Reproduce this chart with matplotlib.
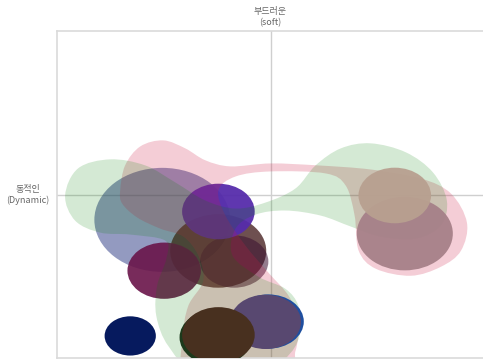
import numpy as np
import matplotlib
matplotlib.use("Agg")
import matplotlib.pyplot as plt
from matplotlib.path import Path
from matplotlib.patches import PathPatch, Circle

plt.rcParams['font.family'] = ['Noto Sans CJK KR', 'DejaVu Sans']

# Axis labels of the positioning map
top_label = "부드러운\n(soft)"
left_label = "동적인\n(Dynamic)"

# Segment outlines (x, y) on the [-1, 1] map
green_x = [-0.962, -0.901, -0.751, -0.587, -0.446, -0.305, -0.164, -0.023, 0.117, 0.211,
           0.329, 0.469, 0.634, 0.761, 0.826, 0.798, 0.681, 0.516, 0.376, 0.235,
           0.070, -0.070, -0.164, -0.178, -0.056, 0.070, 0.131, 0.141, 0.094, -0.023,
           -0.352, -0.479, -0.535, -0.531, -0.488, -0.493, -0.657, -0.798, -0.915]
green_y = [-0.006, 0.160, 0.215, 0.178, 0.074, -0.037, -0.086, -0.049, 0.037, 0.178,
           0.282, 0.313, 0.258, 0.135, -0.037, -0.190, -0.270, -0.258, -0.196, -0.129,
           -0.098, -0.123, -0.209, -0.374, -0.503, -0.577, -0.681, -0.834, -0.969, -1.067,
           -1.067, -0.926, -0.742, -0.558, -0.393, -0.282, -0.245, -0.233, -0.160]

pink_x = [-0.704, -0.681, -0.610, -0.502, -0.399, -0.305, -0.188, 0.000, 0.221, 0.469,
          0.704, 0.845, 0.920, 0.892, 0.798, 0.657, 0.493, 0.413, 0.394, 0.352,
          0.258, 0.000, -0.164, -0.244, -0.211, -0.117, -0.009, 0.085, 0.131, 0.117,
          0.061, -0.376, -0.408, -0.385, -0.315, -0.338, -0.408, -0.516, -0.624, -0.695]
pink_y = [0.025, 0.178, 0.294, 0.331, 0.282, 0.209, 0.172, 0.190, 0.178, 0.153,
          0.098, 0.006, -0.172, -0.344, -0.442, -0.497, -0.454, -0.344, -0.129, 0.055,
          0.129, 0.141, 0.110, 0.025, -0.129, -0.313, -0.479, -0.620, -0.773, -0.957,
          -1.067, -1.067, -0.865, -0.681, -0.528, -0.374, -0.258, -0.209, -0.141, -0.055]

# Brands beneath the segment areas: position, size, colour, opacity
lower_names = ["big", "dark", "dark2", "maroon", "purple"]
lower_x = [-0.507, -0.245, -0.170, -0.498, -0.244]
lower_y = [-0.155, -0.345, -0.410, -0.466, -0.104]
lower_r = [0.318, 0.225, 0.160, 0.172, 0.170]
lower_c = ["#283782", "#4a2424", "#3a1030", "#691449", "#562cab"]
lower_a = [0.50, 0.80, 0.55, 0.90, 0.95]

# Brands drawn over the segment areas
upper_names = ["darkgreen", "blue", "slate", "brown", "navy", "mauve", "beige"]
upper_x = [-0.256, -0.010, -0.023, -0.244, -0.657, 0.629, 0.582]
upper_y = [-0.874, -0.777, -0.779, -0.859, -0.865, -0.239, -0.006]
upper_r = [0.170, 0.166, 0.166, 0.170, 0.120, 0.225, 0.170]
upper_c = ["#1c3a1c", "#1f4fa0", "#584870", "#48301f", "#061a5e", "#a68088", "#b8a090"]
upper_a = [1.0, 1.0, 1.0, 1.0, 1.0, 0.95, 0.95]


def smooth_closed_path(xs, ys):
    pts = np.column_stack([xs, ys])
    n = len(pts)
    verts = [pts[0]]
    codes = [Path.MOVETO]
    for i in range(n):
        p0, p1 = pts[i - 1], pts[i]
        p2, p3 = pts[(i + 1) % n], pts[(i + 2) % n]
        verts += [p1 + (p2 - p0) / 6.0, p2 - (p3 - p1) / 6.0, p2]
        codes += [Path.CURVE4] * 3
    verts.append(pts[0])
    codes.append(Path.CLOSEPOLY)
    return Path(verts, codes)


fig = plt.figure(figsize=(4.83, 3.60), dpi=100)
ax = fig.add_axes([57 / 483, 2 / 360, 427 / 483, 327 / 360])
ax.set_xlim(-1, 1)
ax.set_ylim(-1, 1)
ax.set_xticks([])
ax.set_yticks([])
for s in ax.spines.values():
    s.set_color("#dadada")
    s.set_linewidth(1.2)

ax.axvline(0, color="#cfcfcf", lw=1.0, zorder=0.5)
ax.axhline(0, color="#cfcfcf", lw=1.0, zorder=0.5)

for x, y, r, c, a in zip(lower_x, lower_y, lower_r, lower_c, lower_a):
    ax.add_patch(Circle((x, y), r, facecolor=c, alpha=a, edgecolor="none", zorder=1))

ax.add_patch(PathPatch(smooth_closed_path(pink_x, pink_y), facecolor="#cd1e46",
                       alpha=0.22, edgecolor="none", zorder=2))
ax.add_patch(PathPatch(smooth_closed_path(green_x, green_y), facecolor="#008000",
                       alpha=0.17, edgecolor="none", zorder=2.1))

for x, y, r, c, a in zip(upper_x, upper_y, upper_r, upper_c, upper_a):
    ax.add_patch(Circle((x, y), r, facecolor=c, alpha=a, edgecolor="none", zorder=3))

fig.text(270 / 483, 1 - 17 / 360, top_label, ha="center", va="center",
         fontsize=6.5, color="#666666", linespacing=1.3)
fig.text(28 / 483, 1 - 195 / 360, left_label, ha="center", va="center",
         fontsize=6.5, color="#666666", linespacing=1.3)

fig.savefig("out.png", dpi=100)
